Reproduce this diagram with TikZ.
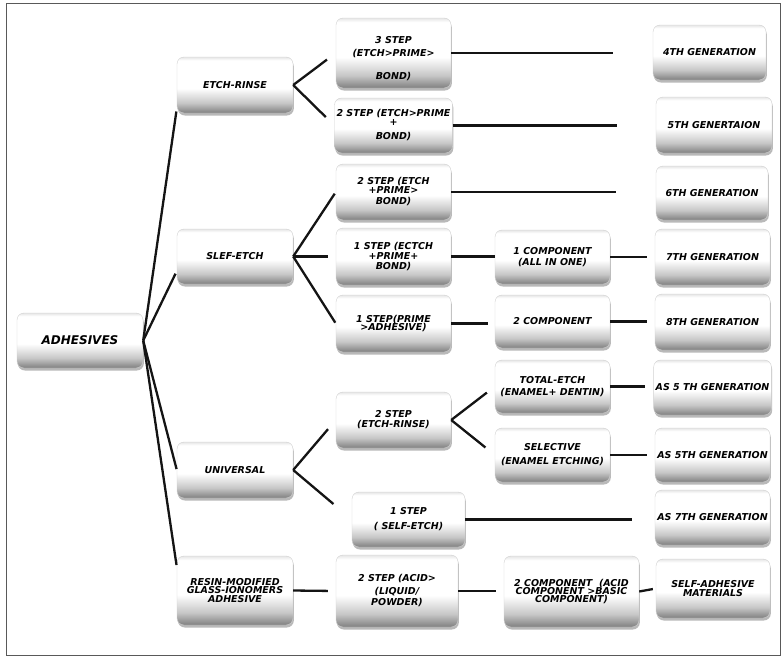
\documentclass[tikz,border=0pt]{standalone}
\usepackage{fontspec}
\setmainfont{DejaVu Sans}
\usetikzlibrary{shadows}
\pgfdeclareverticalshading{boxshade}{100bp}{color(0bp)=(black!50); color(25bp)=(black!50); color(34bp)=(black!22); color(47bp)=(white); color(72bp)=(white); color(75bp)=(black!10); color(100bp)=(black!10)}
\begin{document}
\setlength{\lineskiplimit}{-20pt}
\begin{tikzpicture}[x=1pt,y=-1pt,
  box/.style={rounded corners=7pt, shading=boxshade, draw=black!18, line width=0.4pt,
    drop shadow={shadow xshift=0.8pt, shadow yshift=-2.5pt, opacity=0.55},
    align=center, inner sep=2pt, text=black,
    font=\fontsize{9.5}{9.5}\selectfont\bfseries\itshape},
  link/.style={line width=2.3pt, draw=black!92},
]
\useasboundingbox (0,0) rectangle (783,656);
\fill[white] (0,0) rectangle (783,656);
\draw[black!65, line width=1pt] (6,3) rectangle (780,655);

% column 0
\node[box, minimum width=126pt, minimum height=55pt, font=\fontsize{12}{12}\selectfont\bfseries\itshape] (adh) at (80,340.5) {ADHESIVES};
% column 1
\node[box, minimum width=116pt, minimum height=56pt] (er) at (235,85) {ETCH-RINSE};
\node[box, minimum width=116pt, minimum height=55pt] (se) at (235,256.5) {SLEF-ETCH};
\node[box, minimum width=116pt, minimum height=56pt] (un) at (235,470) {UNIVERSAL};
\node[box, minimum width=116pt, minimum height=69pt] (rm) at (235,590.5) {RESIN-MODIFIED\\[-1pt]GLASS-IONOMERS\\[-1pt]ADHESIVE};
% column 2
\node[box, minimum width=115pt, minimum height=70pt] (s3) at (393.5,53) {\mbox{}\\[9pt]3 STEP\\[3.5pt](ETCH>PRIME>\\[13.5pt]BOND)};
\node[box, minimum width=115pt, minimum height=55pt] (s2) at (393.5,125.5) {2 STEP (ETCH>PRIME\\[-0.5pt]+\\[4.5pt]BOND)};
\node[box, minimum width=115pt, minimum height=56pt] (s2b) at (393.5,192) {2 STEP (ETCH\\[-0.5pt]+PRIME>\\[1.5pt]BOND)};
\node[box, minimum width=115pt, minimum height=57pt] (s1) at (393.5,256.5) {1 STEP (ECTCH\\[0.5pt]+PRIME+\\[0.5pt]BOND)};
\node[box, minimum width=115pt, minimum height=57pt] (s1p) at (393.5,323.5) {1 STEP(PRIME\\[-1.5pt]>ADHESIVE)};
\node[box, minimum width=115pt, minimum height=56pt] (u2) at (393.5,420) {2 STEP\\[0.5pt](ETCH-RINSE)};
\node[box, minimum width=113pt, minimum height=55pt] (u1) at (408.5,519.5) {1 STEP\\[5.5pt]( SELF-ETCH)};
\node[box, minimum width=122pt, minimum height=72pt] (acid) at (397,591) {2 STEP (ACID>\\[3.5pt](LIQUID/\\[1.5pt]POWDER)};
% column 3
\node[box, minimum width=115pt, minimum height=54pt] (c1) at (552.5,257) {1 COMPONENT\\[1.5pt](ALL IN ONE)};
\node[box, minimum width=115pt, minimum height=53pt] (c2) at (552.5,321.5) {2 COMPONENT};
\node[box, minimum width=115pt, minimum height=53pt] (te) at (552.5,386.5) {TOTAL-ETCH\\[2.5pt](ENAMEL+ DENTIN)};
\node[box, minimum width=115pt, minimum height=54pt] (sel) at (552.5,455) {SELECTIVE\\[4.5pt](ENAMEL ETCHING)};
\node[box, minimum width=135pt, minimum height=71pt] (c3) at (571.5,591.5) {2 COMPONENT\ \ (ACID\\[-1.5pt]COMPONENT >BASIC\\[-1.5pt]COMPONENT)};
% column 4
\node[box, minimum width=113pt, minimum height=55pt] (g4) at (709.5,52.5) {4TH GENERATION};
\node[box, minimum width=116pt, minimum height=56pt] (g5) at (714,125) {5TH GENERTAION};
\node[box, minimum width=112pt, minimum height=54pt] (g6) at (712,193) {6TH GENERATION};
\node[box, minimum width=115pt, minimum height=56pt] (g7) at (712.5,257) {7TH GENERATION};
\node[box, minimum width=115pt, minimum height=56pt] (g8) at (712.5,322) {8TH GENERATION};
\node[box, minimum width=115pt, minimum height=55pt] (g5b) at (712.5,387.5) {AS 5 TH GENERATION};
\node[box, minimum width=115pt, minimum height=54pt] (g5c) at (712.5,455) {AS 5TH GENERATION};
\node[box, minimum width=115pt, minimum height=55pt] (g7b) at (712.5,517.5) {AS 7TH GENERATION};
\node[box, minimum width=114pt, minimum height=59pt] (sa) at (713,588.5) {SELF-ADHESIVE\\[-0.5pt]MATERIALS};

% connectors from ADHESIVES
\draw[link, shorten >=3pt] (adh.east) -- (er.202);
\draw[link, shorten >=3pt] (adh.east) -- (se.194);
\draw[link, shorten >=1pt] (adh.east) -- (un.west);
\draw[link, shorten >=2pt] (adh.east) -- (rm.158.6);
% ETCH-RINSE fan
\draw[link, shorten >=11pt] (er.east) -- (s3.west);
\draw[link, shorten >=12pt] (er.east) -- (s2.west);
% SLEF-ETCH fan
\draw[link, shorten >=2pt] (se.east) -- (s2b.west);
\draw[link, shorten >=8pt] (se.east) -- (s1.west);
\draw[link, shorten >=1pt] (se.east) -- (s1p.west);
% UNIVERSAL fan
\draw[link, shorten >=12pt] (un.east) -- (u2.west);
\draw[link, shorten >=24pt] (un.east) -- (u1.west);
\draw[link, shorten >=10pt] (u2.east) -- (te.west);
\draw[link, shorten >=12pt] (u2.east) -- (sel.west);
% RESIN-MODIFIED chain
\draw[link, shorten >=8pt] (rm.east) -- (acid.west);
\draw[link, shorten >=8pt] (acid.east) -- (acid.east -| c3.west);
\draw[link, shorten >=3pt] (c3.east) -- (sa.west);
% horizontal links to generations
\draw[link, shorten >=40pt] (s3.east) -- (s3.east -| g4.west);
\draw[link, shorten >=39pt] (s2.east) -- (s2.east -| g5.west);
\draw[link, shorten >=40pt] (s2b.east) -- (s2b.east -| g6.west);
\draw[link] (s1.east) -- (s1.east -| c1.west);
\draw[link, shorten >=8pt] (c1.east) -- (c1.east -| g7.west);
\draw[link, shorten >=7pt] (s1p.east) -- (s1p.east -| c2.west);
\draw[link, shorten >=8pt] (c2.east) -- (c2.east -| g8.west);
\draw[link, shorten >=8pt] (te.east) -- (te.east -| g5b.west);
\draw[link, shorten >=8pt] (sel.east) -- (sel.east -| g5c.west);
\draw[link, shorten >=23pt] (u1.east) -- (u1.east -| g7b.west);
\end{tikzpicture}
\end{document}
